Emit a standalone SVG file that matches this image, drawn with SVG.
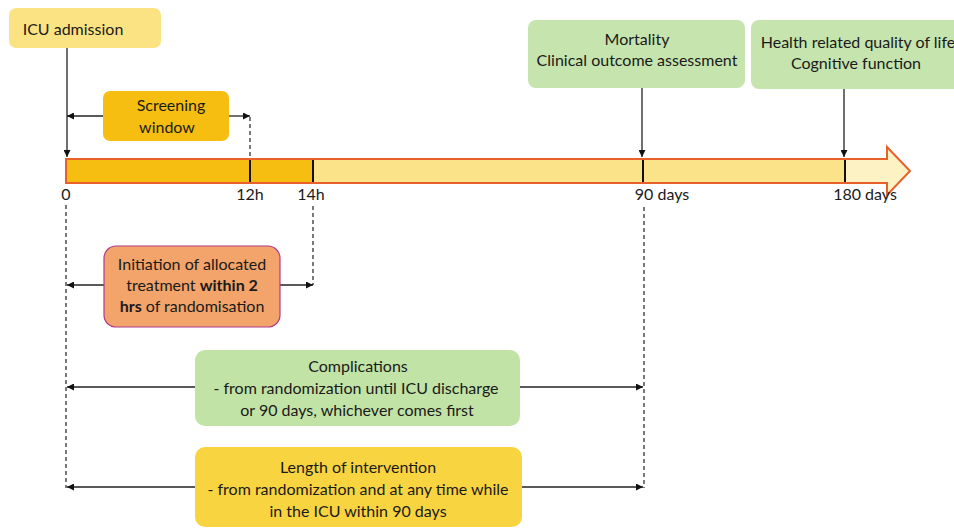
<svg xmlns="http://www.w3.org/2000/svg" width="954" height="529" viewBox="0 0 954 529">
<defs>
<marker id="ah" viewBox="0 0 10 10" refX="10" refY="5" markerWidth="7" markerHeight="7" markerUnits="userSpaceOnUse" orient="auto-start-reverse">
<path d="M0,0 L10,5 L0,10 z" fill="#111"/>
</marker>
<style>
text{font-family:Lato,"Liberation Sans",sans-serif;font-size:16px;fill:#1a1a1a;text-anchor:middle}
.b{font-weight:bold}
.ln{stroke:#222;stroke-width:1.3;fill:none}
.dash{stroke:#222;stroke-width:1.2;stroke-dasharray:4,3;fill:none}
.tick{stroke:#111;stroke-width:2}
</style>
</defs>
<rect width="954" height="529" fill="#fff"/>

<g id="timeline">
<path d="M66,159 H887 V147 L910,171 L887,195 V183 H66 Z" fill="#FDF2C4" stroke="#E8602A" stroke-width="2"/>
<rect x="313" y="160" width="532" height="22" fill="#FBE38A"/>
<rect x="67" y="160" width="246" height="22" fill="#F5BE10"/>
<path d="M66,159 H887 M66,183 H887 M66,159 V183" stroke="#E8602A" stroke-width="2" fill="none"/>
<line class="tick" x1="250" y1="160" x2="250" y2="182"/>
<line class="tick" x1="313" y1="160" x2="313" y2="182"/>
<line class="tick" x1="643" y1="160" x2="643" y2="182"/>
<line class="tick" x1="845" y1="160" x2="845" y2="182"/>
<text x="66" y="200">0</text>
<text x="250" y="200">12h</text>
<text x="311" y="200">14h</text>
<text x="662" y="200">90 days</text>
<text x="865" y="200">180 days</text>
</g>

<g id="connectors">
<line class="ln" x1="67" y1="48" x2="67" y2="157" marker-end="url(#ah)"/>
<line class="ln" x1="67" y1="116" x2="103" y2="116" marker-start="url(#ah)"/>
<line class="ln" x1="229" y1="116" x2="250" y2="116" marker-end="url(#ah)"/>
<line class="dash" x1="250" y1="117" x2="250" y2="158"/>
<line class="ln" x1="642" y1="88" x2="642" y2="157" marker-end="url(#ah)"/>
<line class="ln" x1="844" y1="89" x2="844" y2="157" marker-end="url(#ah)"/>
<line class="dash" x1="66" y1="205" x2="66" y2="488"/>
<line class="dash" x1="313" y1="206" x2="313" y2="285"/>
<line class="dash" x1="644" y1="207" x2="644" y2="488"/>
<line class="ln" x1="67" y1="285" x2="104" y2="285" marker-start="url(#ah)"/>
<line class="ln" x1="280" y1="285" x2="313" y2="285" marker-end="url(#ah)"/>
<line class="ln" x1="67" y1="387" x2="195" y2="387" marker-start="url(#ah)"/>
<line class="ln" x1="520" y1="387" x2="643" y2="387" marker-end="url(#ah)"/>
<line class="ln" x1="67" y1="487" x2="195" y2="487" marker-start="url(#ah)"/>
<line class="ln" x1="522" y1="487" x2="643" y2="487" marker-end="url(#ah)"/>
</g>

<g id="icu-admission">
<rect x="9" y="8" width="152" height="40" rx="7" fill="#FBE383"/>
<text x="73" y="35">ICU admission</text>
</g>

<g id="screening-window">
<rect x="103" y="91" width="126" height="50" rx="7" fill="#F5BE10"/>
<text x="171" y="111">Screening</text>
<text x="167" y="133">window</text>
</g>

<g id="mortality">
<rect x="528" y="20" width="217" height="68" rx="8" fill="#C6E4AE"/>
<text x="637" y="45">Mortality</text>
<text x="637" y="66">Clinical outcome assessment</text>
</g>

<g id="health-quality">
<rect x="751" y="20" width="215" height="69" rx="8" fill="#C6E4AE"/>
<text x="858" y="48">Health related quality of life</text>
<text x="856" y="69">Cognitive function</text>
</g>

<g id="initiation">
<rect x="104" y="246" width="176" height="81" rx="12" fill="#F2A46A" stroke="#B03A8A" stroke-width="1.2"/>
<text x="192" y="270">Initiation of allocated</text>
<text x="192" y="291">treatment <tspan class="b">within 2</tspan></text>
<text x="192" y="312"><tspan class="b">hrs</tspan> of randomisation</text>
</g>

<g id="complications">
<rect x="195" y="350" width="325" height="76" rx="10" fill="#C2E3A6"/>
<text x="358" y="372">Complications</text>
<text x="356" y="394">- from randomization until ICU discharge</text>
<text x="357" y="416">or 90 days, whichever comes first</text>
</g>

<g id="length-of-intervention">
<rect x="195" y="447" width="327" height="80" rx="10" fill="#F9D441"/>
<text x="358" y="473">Length of intervention</text>
<text x="358" y="495">- from randomization and at any time while</text>
<text x="358" y="517">in the ICU within 90 days</text>
</g>
</svg>
